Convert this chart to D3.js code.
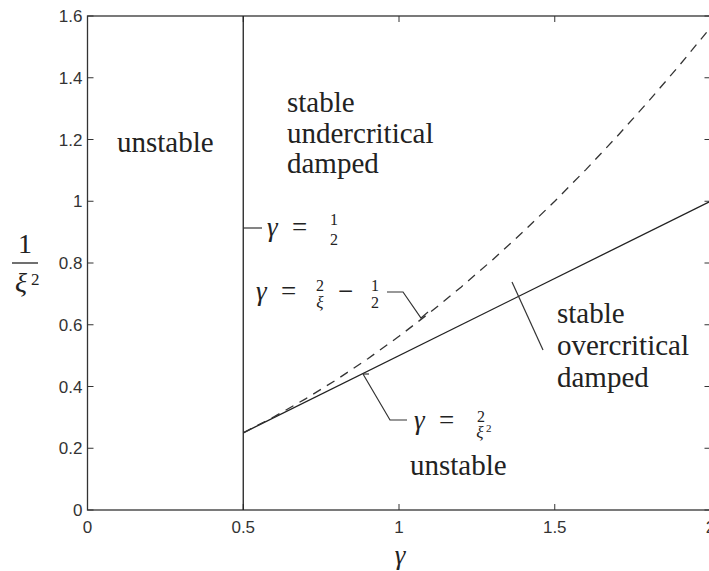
<!DOCTYPE html>
<html>
<head>
<meta charset="utf-8">
<script src="https://cdn.jsdelivr.net/npm/d3@7/dist/d3.min.js"></script>
</head>
<body style="margin:0">
<svg id="chart" width="709" height="571" style="display:block"></svg>
<script>
// Stability regions in the (gamma, 1/xi^2) plane
const xTicks = [0, 0.5, 1, 1.5, 2];
const yTicks = [0, 0.2, 0.4, 0.6, 0.8, 1, 1.2, 1.4, 1.6];
const xTickLabels = ["0", "0.5", "1", "1.5", "2"];
const yTickLabels = ["0", "0.2", "0.4", "0.6", "0.8", "1", "1.2", "1.4", "1.6"];

// boundary gamma = 1/2
const halfLine = [[0.5, 0], [0.5, 1.6]];
// boundary gamma = 2/xi^2 (solid)
const solidGamma = [0.5, 2.0];
const solidValue = [0.25, 1.0];
// boundary gamma = 2/xi - 1/2 (dashed)
const dashedGamma = [0.5, 0.6, 0.7, 0.8, 0.9, 1.0, 1.1, 1.2, 1.3, 1.4, 1.5, 1.6, 1.7, 1.8, 1.9, 2.0];
const dashedValue = [0.25, 0.3025, 0.36, 0.4225, 0.49, 0.5625, 0.64, 0.7225, 0.81, 0.9025, 1.0, 1.1025, 1.21, 1.3225, 1.44, 1.5625];

const SANS = "Liberation Sans";
const SERIF = "Liberation Serif";
const ink = "#222";

const svg = d3.select("#chart");
const x = d3.scaleLinear().domain([0, 2]).range([87.5, 710.5]);
const y = d3.scaleLinear().domain([0, 1.6]).range([510, 16]);

// frame
const frame = svg.append("g");
frame.append("rect")
  .attr("x", x(0)).attr("y", y(1.6))
  .attr("width", x(2) - x(0)).attr("height", y(0) - y(1.6))
  .attr("fill", "none").attr("stroke", "#333").attr("stroke-width", 1.3);

// inward ticks on all four sides
const tl = 6;
xTicks.forEach(v => {
  frame.append("line").attr("x1", x(v)).attr("x2", x(v)).attr("y1", y(0)).attr("y2", y(0) - tl).attr("stroke", "#333");
  frame.append("line").attr("x1", x(v)).attr("x2", x(v)).attr("y1", y(1.6)).attr("y2", y(1.6) + tl).attr("stroke", "#333");
});
yTicks.forEach(v => {
  frame.append("line").attr("x1", x(0)).attr("x2", x(0) + tl).attr("y1", y(v)).attr("y2", y(v)).attr("stroke", "#333");
  frame.append("line").attr("x1", x(2)).attr("x2", x(2) - tl).attr("y1", y(v)).attr("y2", y(v)).attr("stroke", "#333");
});

function label(x0, y0, str, family, size, opts) {
  const o = opts || {};
  return svg.append("text")
    .attr("x", x0).attr("y", y0)
    .attr("font-family", family)
    .style("font-family", family)
    .attr("font-size", size)
    .attr("font-style", o.italic ? "italic" : "normal")
    .attr("text-anchor", o.anchor || "start")
    .attr("fill", o.fill || ink)
    .text(str);
}

xTicks.forEach((v, i) => label(x(v), y(0) + 23, xTickLabels[i], SANS, 17, { anchor: "middle", fill: "#333" }));
yTicks.forEach((v, i) => label(x(0) - 5, y(v) + 6, yTickLabels[i], SANS, 17, { anchor: "end", fill: "#333" }));

// boundary curves
const line = d3.line().x(d => x(d[0])).y(d => y(d[1]));
svg.append("path").attr("d", line(halfLine))
  .attr("fill", "none").attr("stroke", ink).attr("stroke-width", 1.3);
svg.append("path").attr("d", line(solidGamma.map((g, i) => [g, solidValue[i]])))
  .attr("fill", "none").attr("stroke", ink).attr("stroke-width", 1.3);
svg.append("path").attr("d", line(dashedGamma.map((g, i) => [g, dashedValue[i]])))
  .attr("fill", "none").attr("stroke", "#333").attr("stroke-width", 1.3)
  .attr("stroke-dasharray", "9,7");

// region labels
function lines(x0, y0, dy, words) {
  words.forEach((w, i) => label(x0, y0 + i * dy, w, SERIF, 29));
}
lines(117, 152, 0, ["unstable"]);
lines(287, 112, 30.5, ["stable", "undercritical", "damped"]);
lines(557, 323, 32, ["stable", "overcritical", "damped"]);
lines(410, 475, 0, ["unstable"]);

function mt(x0, y0, str, size, italic, anchor) {
  return label(x0, y0, str, SERIF, size, { italic: italic, anchor: anchor });
}
function leader(points) {
  svg.append("path").attr("d", d3.line()(points))
    .attr("fill", "none").attr("stroke", "#333").attr("stroke-width", 1.2);
}

// gamma = 1/2
leader([[x(0.5), 228], [262, 228]]);
mt(267, 236, "γ", 27, true);
mt(292, 236, "=", 27, false);
mt(334, 225, "1", 16, false, "middle");
mt(334, 245, "2", 16, false, "middle");

// gamma = 2/xi - 1/2
mt(256, 300, "γ", 27, true);
mt(281, 300, "=", 27, false);
mt(320, 291, "2", 16, false, "middle");
mt(320, 308, "ξ", 17, true, "middle");
mt(338, 300, "−", 27, false);
mt(375, 291, "1", 16, false, "middle");
mt(375, 308, "2", 16, false, "middle");
leader([[387, 292], [403, 292], [421, 318], [428, 312]]);

// gamma = 2/xi^2
leader([[363, 374], [369, 374]]);
leader([[363, 374], [390, 420], [407, 420]]);
mt(414, 429, "γ", 27, true);
mt(439, 429, "=", 27, false);
mt(481, 422, "2", 16, false, "middle");
mt(480, 438, "ξ", 17, true, "middle");
mt(486, 432, "2", 11, false, "start");

// marker across the solid boundary
leader([[512, 282], [543, 350]]);

// axis titles
mt(400, 564, "γ", 27, true, "middle");
mt(25, 253, "1", 28, false, "middle");
svg.append("line").attr("x1", 12).attr("x2", 38).attr("y1", 263).attr("y2", 263)
  .attr("stroke", ink).attr("stroke-width", 1.3);
mt(21, 292, "ξ", 28, true, "middle");
mt(31, 285, "2", 17, false, "start");
</script>
</body>
</html>
